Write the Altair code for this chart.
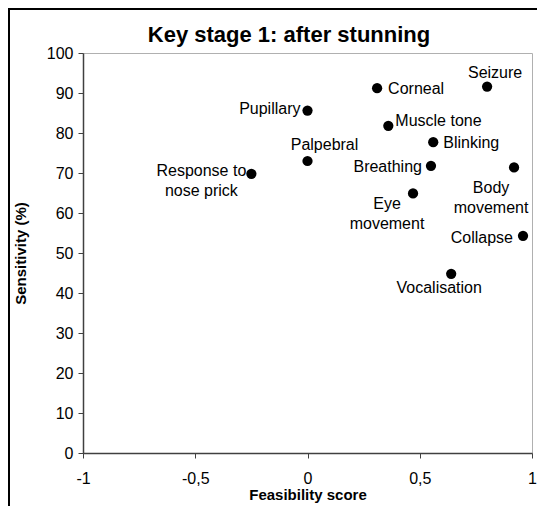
import altair as alt
import pandas as pd

# ---- data ----
labels = ["Pupillary", "Corneal", "Seizure", "Muscle tone", "Blinking", "Palpebral",
          "Response to\nnose prick", "Breathing", "Body\nmovement", "Eye\nmovement",
          "Collapse", "Vocalisation"]
feasibility = [0.0, 0.31, 0.80, 0.36, 0.56, 0.0, -0.25, 0.55, 0.92, 0.47, 0.96, 0.64]
sensitivity = [85.6, 91.2, 91.6, 81.8, 77.7, 73.0, 69.8, 71.8, 71.4, 64.9, 54.3, 44.8]
x_ticks = [-1, -0.5, 0, 0.5, 1]
y_ticks = [0, 10, 20, 30, 40, 50, 60, 70, 80, 90, 100]
title_text = "Key stage 1: after stunning"

# label placement (style only): align, dx, dy
placement = {
    "Pupillary": ("right", -7, -2),
    "Corneal": ("left", 11, 1),
    "Seizure": ("center", 8, -14),
    "Muscle tone": ("left", 7, -5),
    "Blinking": ("left", 10, 1),
    "Palpebral": ("center", 17, -16),
    "Response to\nnose prick": ("center", -50, -3),
    "Breathing": ("right", -9, 1),
    "Body\nmovement": ("center", -23, 21),
    "Eye\nmovement": ("center", -26, 11),
    "Collapse": ("right", -10, 2),
    "Vocalisation": ("center", -12, 14),
}

df = pd.DataFrame({"label": labels, "x": feasibility, "y": sensitivity})

FONT = "Liberation Sans"

xscale = alt.Scale(domain=[-1, 1], nice=False, zero=False)
yscale = alt.Scale(domain=[0, 100], nice=False)
x_axis = alt.Axis(values=x_ticks, title="Feasibility score", labelOverlap=False,
                  labelExpr="replace(toString(datum.value), '.', ',')")
y_axis = alt.Axis(values=y_ticks, title="Sensitivity (%)", labelOverlap=False,
                  tickCount=11)

points = alt.Chart(df).mark_circle(size=105, color="black", opacity=1).encode(
    x=alt.X("x:Q", scale=xscale, axis=x_axis),
    y=alt.Y("y:Q", scale=yscale, axis=y_axis),
)

text_layers = []
for lab in labels:
    align, dx, dy = placement[lab]
    t = alt.Chart(df).transform_filter(alt.datum.label == lab).mark_text(
        align=align, baseline="middle", dx=dx, dy=dy, font=FONT, fontSize=16,
        color="black", lineBreak="\n", lineHeight=20
    ).encode(
        x=alt.X("x:Q", scale=xscale, axis=x_axis),
        y=alt.Y("y:Q", scale=yscale, axis=y_axis),
        text="label:N",
    )
    text_layers.append(t)

frame = alt.Chart(pd.DataFrame({"a": [0]})).mark_rect(
    filled=False, stroke="black", strokeWidth=2, clip=False
).encode(
    x=alt.value(-74), x2=alt.value(900),
    y=alt.value(-44), y2=alt.value(900),
)

title = alt.Chart(pd.DataFrame({"t": [title_text]})).mark_text(
    font=FONT, fontSize=22, fontWeight="bold", color="black",
    align="center", baseline="alphabetic", clip=False
).encode(
    x=alt.value(206), y=alt.value(-11), text="t:N"
)

chart = alt.layer(points, *text_layers, frame, title).properties(
    width=449, height=400,
    autosize=alt.AutoSizeParams(type="none"),
    padding={"left": 75, "top": 45, "right": 5, "bottom": 53},
).configure_view(
    stroke="#b0b0b0", strokeWidth=1
).configure_axis(
    grid=False, domainColor="#404040", tickColor="#404040", domainWidth=1.5,
    tickSize=5, labelFont=FONT, labelFontSize=16, labelColor="black",
    labelOverlap=False, labelFlush=False,
    titleFont=FONT, titleFontSize=15, titleFontWeight="bold", titleColor="black",
    zindex=1,
).configure_axisX(
    labelPadding=12, titlePadding=1
).configure_axisY(
    labelPadding=5, titlePadding=18
)

chart.save("out.html", embed_options={"renderer": "svg", "actions": False})
